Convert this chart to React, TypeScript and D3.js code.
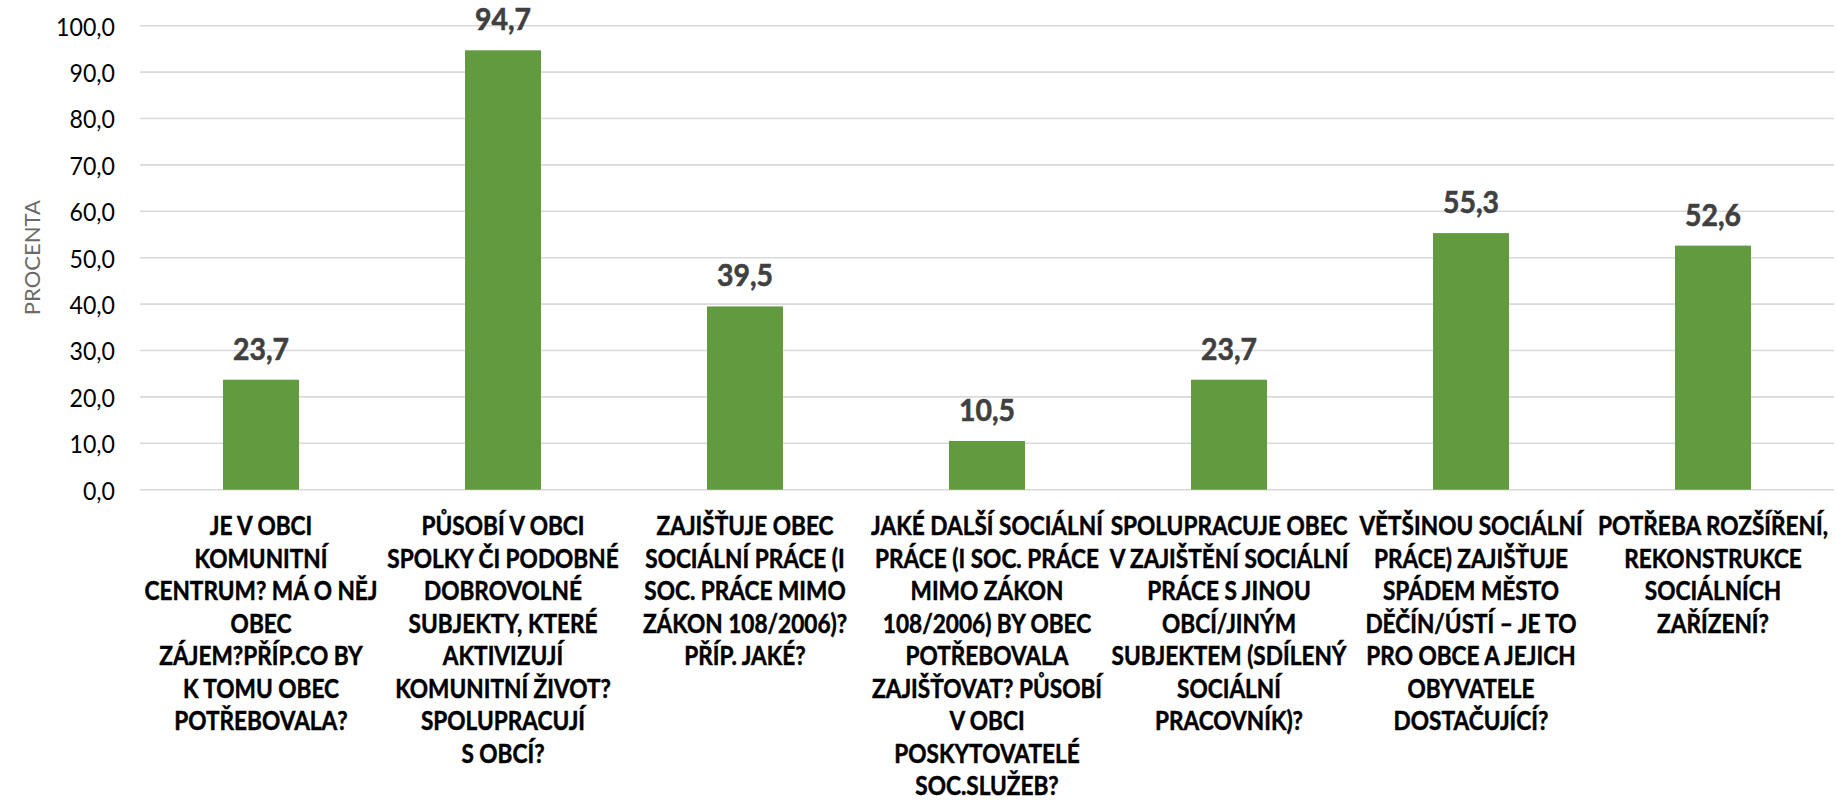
import React, { useLayoutEffect, useRef, useState } from "react";
import * as d3 from "d3";

const categoryIds = ["c1", "c2", "c3", "c4", "c5", "c6", "c7"];
const categoryLines: string[][] = [
  ["JE V OBCI", "KOMUNITNÍ", "CENTRUM? MÁ O NĚJ", "OBEC", "ZÁJEM?PŘÍP.CO BY", "K TOMU OBEC", "POTŘEBOVALA?"],
  ["PŮSOBÍ V OBCI", "SPOLKY ČI PODOBNÉ", "DOBROVOLNÉ", "SUBJEKTY, KTERÉ", "AKTIVIZUJÍ", "KOMUNITNÍ ŽIVOT?", "SPOLUPRACUJÍ", "S OBCÍ?"],
  ["ZAJIŠŤUJE OBEC", "SOCIÁLNÍ PRÁCE (I", "SOC. PRÁCE MIMO", "ZÁKON 108/2006)?", "PŘÍP. JAKÉ?"],
  ["JAKÉ DALŠÍ SOCIÁLNÍ", "PRÁCE (I SOC. PRÁCE", "MIMO ZÁKON", "108/2006) BY OBEC", "POTŘEBOVALA", "ZAJIŠŤOVAT? PŮSOBÍ", "V OBCI", "POSKYTOVATELÉ", "SOC.SLUŽEB?"],
  ["SPOLUPRACUJE OBEC", "V ZAJIŠTĚNÍ SOCIÁLNÍ", "PRÁCE S JINOU", "OBCÍ/JINÝM", "SUBJEKTEM (SDÍLENÝ", "SOCIÁLNÍ", "PRACOVNÍK)?"],
  ["VĚTŠINOU SOCIÁLNÍ", "PRÁCE) ZAJIŠŤUJE", "SPÁDEM MĚSTO", "DĚČÍN/ÚSTÍ – JE TO", "PRO OBCE A JEJICH", "OBYVATELE", "DOSTAČUJÍCÍ?"],
  ["POTŘEBA ROZŠÍŘENÍ,", "REKONSTRUKCE", "SOCIÁLNÍCH", "ZAŘÍZENÍ?"],
];
const values = [23.7, 94.7, 39.5, 10.5, 23.7, 55.3, 52.6];
const yTickValues = [0, 10, 20, 30, 40, 50, 60, 70, 80, 90, 100];
const yAxisTitle = "PROCENTA";

const W = 1837;
const H = 801;
const FONT = "Lato, 'Open Sans', sans-serif";
const fmt = (d: number) => d.toFixed(1).replace(".", ",");

export default function App() {
  const x = d3.scaleBand<string>().domain(categoryIds).range([140, 1834]).paddingInner(0.686).paddingOuter(0.343);
  const y = d3.scaleLinear().domain([0, 100]).range([489.7, 25.7]);

  const mXL = useRef<SVGTextElement>(null);
  const mTK = useRef<SVGTextElement>(null);
  const mVL = useRef<SVGTextElement>(null);
  const mAT = useRef<SVGTextElement>(null);
  const [sx, setSx] = useState({ xl: 1, tk: 1, vl: 1, at: 1 });

  useLayoutEffect(() => {
    const f = (r: React.RefObject<SVGTextElement>, target: number) => {
      const l = r.current ? r.current.getComputedTextLength() : 0;
      return l > 0 ? target / l : 1;
    };
    setSx({ xl: f(mXL, 232), tk: f(mTK, 59), vl: f(mVL, 56), at: f(mAT, 115) });
  }, []);

  const lineH = 32.5;
  const firstBase = 535;

  return (
    <svg width={W} height={H} style={{ position: "absolute", left: 0, top: 0, background: "#fff" }} fontFamily={FONT}>
      <g visibility="hidden">
        <text ref={mXL} fontSize={26.5} fontWeight={700}>JAKÉ DALŠÍ SOCIÁLNÍ</text>
        <text ref={mTK} fontSize={25}>100,0</text>
        <text ref={mVL} fontSize={31} fontWeight={700}>55,3</text>
        <text ref={mAT} fontSize={22}>PROCENTA</text>
      </g>
      {yTickValues.map((t) => (
        <line key={"g" + t} x1={140} x2={1834} y1={y(t)} y2={y(t)} stroke="#d9d9d9" strokeWidth={1.6} />
      ))}
      {yTickValues.map((t) => (
        <g key={"t" + t} transform={`translate(115,${y(t)}) scale(${sx.tk},1)`}>
          <text textAnchor="end" dominantBaseline="central" fontSize={25} fill="#000">
            {fmt(t)}
          </text>
        </g>
      ))}
      <g transform={`translate(31,${(y(0) + y(100)) / 2}) rotate(-90) scale(${sx.at},1)`}>
        <text textAnchor="middle" dominantBaseline="central" fontSize={22} fill="#6a6a6a">
          {yAxisTitle}
        </text>
      </g>
      {values.map((v, i) => (
        <rect key={"b" + i} x={x(categoryIds[i])!} y={y(v)} width={x.bandwidth()} height={y(0) - y(v)} fill="#629a3f" />
      ))}
      {values.map((v, i) => (
        <g key={"v" + i} transform={`translate(${x(categoryIds[i])! + x.bandwidth() / 2},${y(v) - 20}) scale(${sx.vl},1)`}>
          <text textAnchor="middle" fontSize={31} fontWeight={700} fill="#404040" stroke="#404040" strokeWidth={0.6}>
            {fmt(v)}
          </text>
        </g>
      ))}
      {categoryLines.map((lines, i) => (
        <g key={"l" + i}>
          {lines.map((ln, j) => (
            <g key={j} transform={`translate(${x(categoryIds[i])! + x.bandwidth() / 2},${firstBase + j * lineH}) scale(${sx.xl},1)`}>
              <text textAnchor="middle" fontSize={26.5} fontWeight={700} fill="#000" stroke="#000" strokeWidth={0.5}>
                {ln}
              </text>
            </g>
          ))}
        </g>
      ))}
    </svg>
  );
}
